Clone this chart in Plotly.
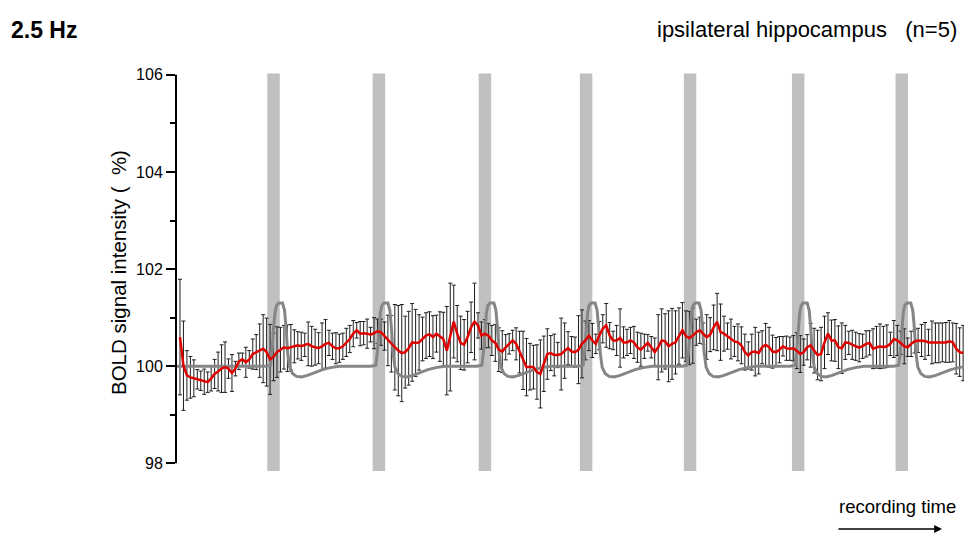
import plotly.graph_objects as go

# ---------------- data ----------------
bold_mean = [
    100.60, 100.01, 99.81, 99.77, 99.75, 99.73, 99.70, 99.68, 99.67, 99.75,
    99.84, 99.89, 99.95, 99.98, 99.95, 99.86, 99.95, 100.10, 100.14, 100.08,
    100.14, 100.25, 100.29, 100.32, 100.36, 100.29, 100.14, 100.19, 100.29, 100.34,
    100.39, 100.37, 100.39, 100.41, 100.43, 100.41, 100.44, 100.46,
    100.41, 100.39, 100.37, 100.41, 100.46, 100.48, 100.41, 100.37, 100.37, 100.41,
    100.49, 100.56, 100.67, 100.74, 100.67, 100.68, 100.67, 100.65, 100.68, 100.72,
    100.70, 100.62, 100.53, 100.46, 100.39, 100.32, 100.27, 100.29, 100.37, 100.49,
    100.48, 100.49, 100.56, 100.63, 100.66, 100.60, 100.67,
    100.61, 100.56, 100.32, 100.60, 100.92, 100.67, 100.48, 100.44, 100.60, 100.80,
    100.92, 100.84, 100.63, 100.67, 100.63, 100.53, 100.48, 100.34, 100.30, 100.39,
    100.46, 100.53, 100.46, 100.29, 100.12, 99.98, 99.99, 99.98, 99.88, 99.84,
    100.05, 100.25, 100.27, 100.23, 100.23, 100.25, 100.32, 100.37,
    100.30, 100.29, 100.34, 100.46, 100.53, 100.63, 100.53, 100.46, 100.63, 100.77,
    100.84, 100.63, 100.53, 100.53, 100.58, 100.49, 100.49, 100.53, 100.49, 100.39,
    100.34, 100.41, 100.48, 100.39, 100.29, 100.39, 100.53, 100.51, 100.41, 100.46,
    100.49, 100.62, 100.74, 100.62, 100.58, 100.63, 100.70, 100.74,
    100.67, 100.60, 100.65, 100.80, 100.91, 100.70, 100.67, 100.62, 100.56, 100.51,
    100.49, 100.43, 100.29, 100.22, 100.29, 100.30, 100.27, 100.39, 100.44, 100.39,
    100.30, 100.29, 100.34, 100.41, 100.37, 100.36, 100.37, 100.32, 100.25, 100.29,
    100.39, 100.43, 100.32, 100.23, 100.25, 100.49, 100.67, 100.53,
    100.53, 100.39, 100.37, 100.49, 100.48, 100.44, 100.41, 100.38, 100.41, 100.46,
    100.48, 100.36, 100.39, 100.41, 100.39, 100.41, 100.46, 100.56, 100.53, 100.48,
    100.41, 100.39, 100.46, 100.51, 100.53, 100.53, 100.52, 100.49, 100.49, 100.48,
    100.48, 100.49, 100.49, 100.51, 100.49, 100.36, 100.29, 100.27,
]

bold_sem = [
    1.19, 0.92, 0.51, 0.43, 0.38, 0.20, 0.20, 0.26, 0.21, 0.26,
    0.30, 0.40, 0.49, 0.52, 0.20, 0.38, 0.15, 0.17, 0.13, 0.31,
    0.18, 0.31, 0.36, 0.55, 0.70, 0.70, 0.72, 0.49, 0.52, 0.46,
    0.45, 0.48, 0.47, 0.34, 0.28, 0.29, 0.24, 0.45,
    0.41, 0.37, 0.32, 0.48, 0.50, 0.26, 0.27, 0.32, 0.29, 0.27,
    0.29, 0.28, 0.27, 0.16, 0.25, 0.24, 0.30, 0.15, 0.32, 0.25,
    0.27, 0.29, 0.52, 0.58, 0.88, 0.93, 1.00, 0.74, 0.76, 0.80,
    0.69, 0.57, 0.45, 0.47, 0.46, 0.44, 0.38,
    0.51, 0.55, 0.91, 1.11, 0.75, 0.58, 0.55, 0.52, 0.53, 0.52,
    0.79, 0.26, 0.28, 0.29, 0.25, 0.31, 0.38, 0.45, 0.43, 0.26,
    0.21, 0.21, 0.33, 0.43, 0.60, 0.59, 0.48, 0.45, 0.56, 0.70,
    0.57, 0.52, 0.36, 0.43, 0.26, 0.74, 0.57, 0.34,
    0.31, 0.31, 0.70, 0.70, 0.40, 0.31, 0.35, 0.20, 0.29, 0.29,
    0.45, 0.27, 0.19, 0.31, 0.60, 0.32, 0.27, 0.27, 0.33, 0.31,
    0.34, 0.25, 0.17, 0.22, 0.29, 0.67, 0.65, 0.57, 0.73, 0.73,
    0.65, 0.58, 0.57, 0.52, 0.55, 0.57, 0.27, 0.27,
    0.22, 0.46, 0.35, 0.46, 0.59, 0.58, 0.36, 0.27, 0.41, 0.31,
    0.38, 0.38, 0.37, 0.28, 0.37, 0.50, 0.43, 0.34, 0.44, 0.41,
    0.34, 0.30, 0.27, 0.20, 0.25, 0.24, 0.26, 0.37, 0.38, 0.27,
    0.26, 0.45, 0.46, 0.51, 0.55, 0.54, 0.43, 0.42,
    0.43, 0.44, 0.52, 0.35, 0.24, 0.30, 0.29, 0.29, 0.25, 0.27,
    0.25, 0.41, 0.43, 0.46, 0.43, 0.44, 0.24, 0.38, 0.31, 0.24,
    0.36, 0.19, 0.26, 0.24, 0.25, 0.33, 0.38, 0.27, 0.44, 0.41,
    0.41, 0.40, 0.41, 0.43, 0.40, 0.52, 0.50, 0.57,
]

# stimulation blocks (scan index of block centre)
stim_centers = [27.0, 57.4, 88.0, 117.2, 147.2, 178.4, 208.3]
stim_width = 3.6
stim_base = 97.84
stim_top = 106.03

# modelled response to one stimulation block (offset from block centre, % signal)
model_offsets = [-2.31, -0.87, -0.43, 0.0, 0.43, 0.87, 1.44, 2.60, 3.17, 3.61,
                 4.04, 4.62, 5.48, 6.64, 8.08, 9.81, 11.83, 14.14, 16.45, 19.05]
model_values = [100.0, 100.02, 100.3, 100.8, 101.1, 101.25, 101.3, 101.3, 101.15, 100.8,
                100.3, 99.98, 99.85, 99.79, 99.78, 99.81, 99.87, 99.93, 99.97, 100.0]
model_start = -1.1
model_baseline = 100.0

y_ticks = [98, 100, 102, 104, 106]
y_minor_ticks = [99, 101, 103, 105]

title_left = "2.5 Hz"
title_right = "ipsilateral hippocampus&nbsp;&nbsp;&nbsp;(n=5)"
y_title = "BOLD signal intensity (&nbsp;&nbsp;%)"
x_note = "recording time"

# ---------------- figure ----------------
W, H = 964, 534
ML, MR, MT, MB = 176, 0, 70, 61
PW, PH = W - ML - MR, H - MT - MB


def px2x(px):
    return (px - ML) / PW


def px2y(py):
    return (H - MB - py) / PH


FONT = "Liberation Sans, Arial, Helvetica, sans-serif"

idx = list(range(len(bold_mean)))

gray_x = [model_start]
gray_y = [model_baseline]
for c in stim_centers:
    gray_x += [c + o for o in model_offsets]
    gray_y += model_values

fig = go.Figure()

fig.add_trace(go.Bar(
    x=stim_centers,
    y=[stim_top - stim_base] * len(stim_centers),
    base=stim_base,
    width=stim_width,
    marker=dict(color="#c0c0c0", line=dict(width=0)),
    showlegend=False, hoverinfo="skip",
))

fig.add_trace(go.Scatter(
    x=idx, y=bold_mean, mode="markers",
    marker=dict(size=1, color="rgba(0,0,0,0)"),
    error_y=dict(type="data", array=bold_sem, visible=True,
                 color="#1e1e1e", thickness=1, width=2),
    cliponaxis=False, showlegend=False, hoverinfo="skip",
))

fig.add_trace(go.Scatter(
    x=gray_x, y=gray_y, mode="lines",
    line=dict(color="#868686", width=3),
    showlegend=False, hoverinfo="skip",
))

fig.add_trace(go.Scatter(
    x=idx, y=bold_mean, mode="lines",
    line=dict(color="#e00000", width=2.5),
    showlegend=False, hoverinfo="skip",
))

fig.update_layout(
    width=W, height=H,
    margin=dict(l=ML, r=MR, t=MT, b=MB, pad=0),
    paper_bgcolor="white", plot_bgcolor="white",
    font=dict(family=FONT, color="black"),
    barmode="overlay",
    xaxis=dict(range=[-1.15, 226.25], visible=False, fixedrange=True),
    yaxis=dict(
        range=[97.8, 106.1],
        tickvals=y_ticks, ticktext=[str(v) for v in y_ticks],
        ticks="outside", ticklen=9, tickwidth=1.5, tickcolor="black",
        tickfont=dict(family=FONT, size=16, color="black"),
        showgrid=False, zeroline=False, showline=False,
        minor=dict(tickvals=y_minor_ticks, ticks="outside", ticklen=5,
                   tickwidth=1.5, tickcolor="black", showgrid=False),
        fixedrange=True,
    ),
    shapes=[dict(type="line", xref="paper", yref="y", x0=0, x1=0,
                 y0=y_ticks[0], y1=y_ticks[-1],
                 line=dict(color="black", width=2), layer="above")],
    annotations=[
        dict(text="<b>" + title_left + "</b>", xref="paper", yref="paper",
             x=px2x(9), y=px2y(30), xanchor="left", yanchor="middle",
             showarrow=False, font=dict(size=23, family=FONT)),
        dict(text=title_right, xref="paper", yref="paper",
             x=px2x(959), y=px2y(30), xanchor="right", yanchor="middle",
             showarrow=False, font=dict(size=22, family=FONT)),
        dict(text=y_title, xref="paper", yref="paper",
             x=px2x(118), y=px2y(273), xanchor="center", yanchor="middle",
             textangle=-90, showarrow=False, font=dict(size=20.5, family=FONT)),
        dict(text=x_note, xref="paper", yref="paper",
             x=px2x(958), y=px2y(507), xanchor="right", yanchor="middle",
             showarrow=False, font=dict(size=18.5, family=FONT)),
        dict(text="", xref="paper", yref="paper",
             x=px2x(942), y=px2y(529), ax=-105, ay=0,
             showarrow=True, arrowhead=2, arrowsize=1.2, arrowwidth=1.3,
             arrowcolor="black"),
    ],
)

fig.write_html("out.html")
